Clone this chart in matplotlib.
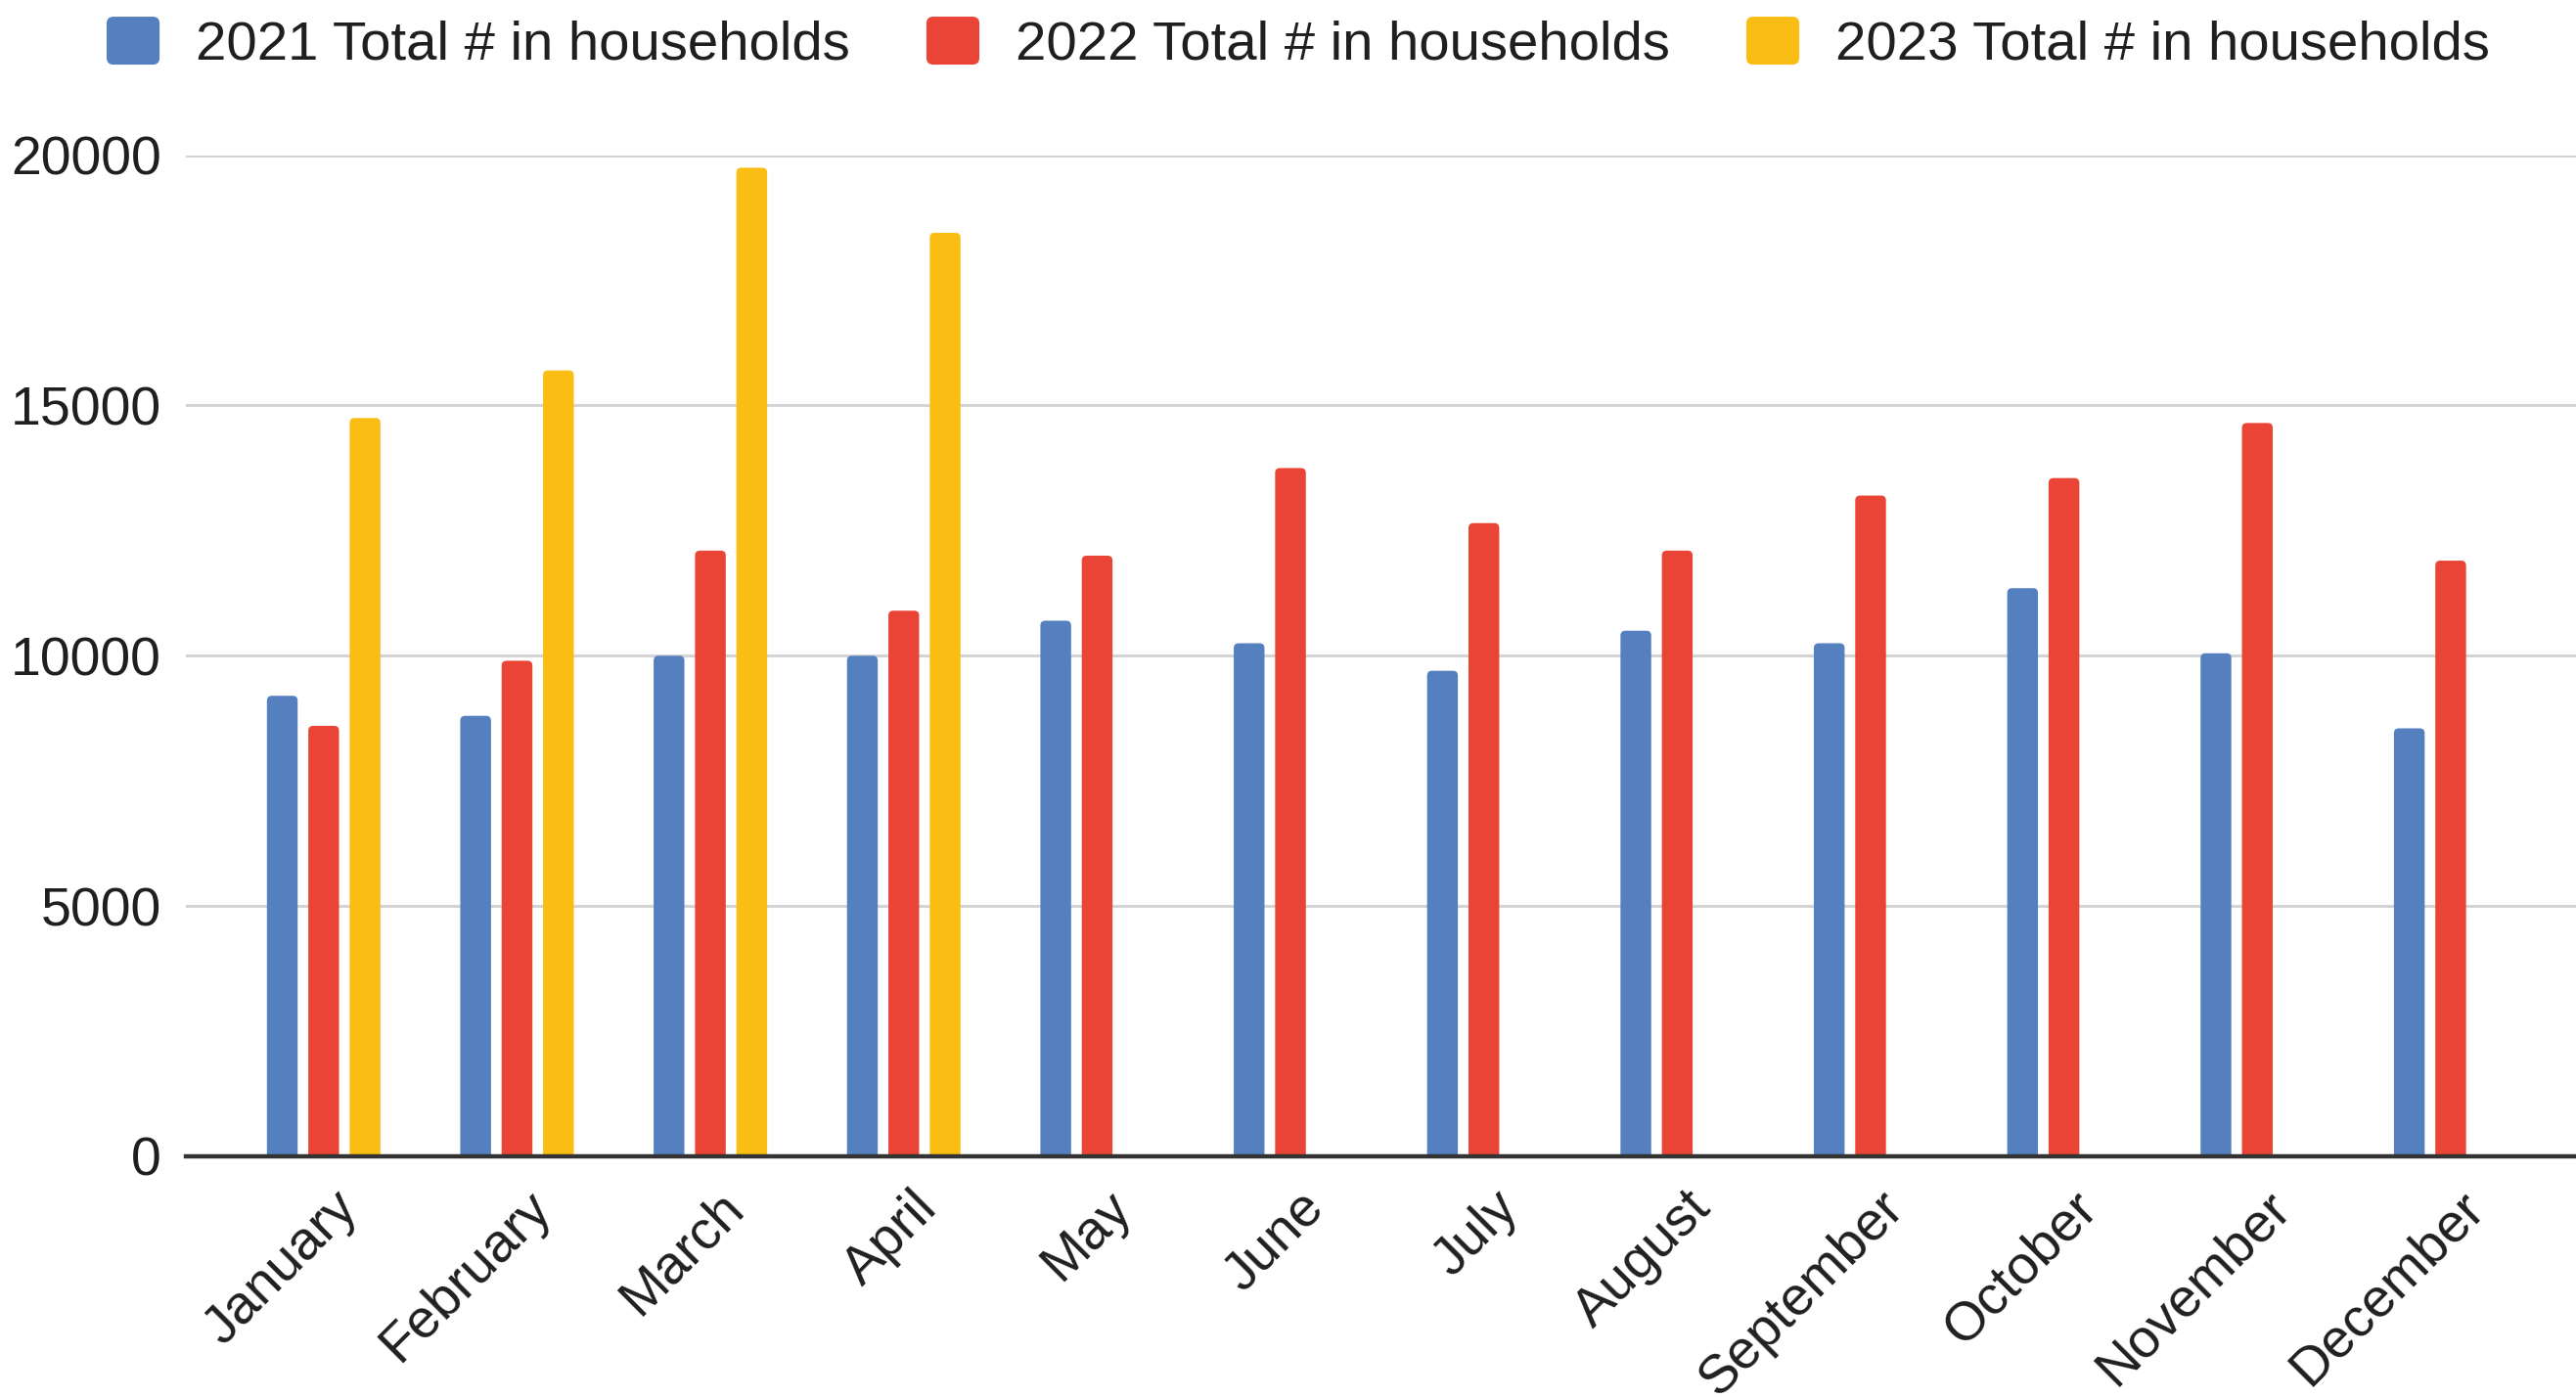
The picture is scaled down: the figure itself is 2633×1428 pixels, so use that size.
import matplotlib
matplotlib.use("Agg")
import matplotlib.pyplot as plt
import numpy as np
from matplotlib.patches import FancyBboxPatch, Patch
from matplotlib.legend_handler import HandlerPatch
from matplotlib.transforms import ScaledTranslation

plt.rcParams['font.family'] = ['Liberation Sans', 'DejaVu Sans']

months = ["January", "February", "March", "April", "May", "June", "July",
          "August", "September", "October", "November", "December"]
households_2021 = [9200, 8800, 10000, 10000, 10700, 10250, 9700, 10500,
                   10250, 11350, 10050, 8550]
households_2022 = [8600, 9900, 12100, 10900, 12000, 13750, 12650, 12100,
                   13200, 13550, 14650, 11900]
households_2023 = [14750, 15700, 19750, 18450]

series_labels = ["2021 Total # in households", "2022 Total # in households",
                 "2023 Total # in households"]
colors = ["#5580c0", "#e94435", "#f9bd14"]
yticks = [0, 5000, 10000, 15000, 20000]

DPI = 100
fig = plt.figure(figsize=(26.33, 14.28), dpi=DPI)
ax = fig.add_axes([0.0722, 0.1723, 1 - 0.0722, 0.7166])

x = np.arange(len(months))
bar_w = 0.159
step = 0.214

ax.set_xlim(-0.712, 11.648)
ax.set_ylim(0, 20000)

series = [households_2021, households_2022, households_2023]
for i, (vals, col) in enumerate(zip(series, colors)):
    xs = x[:len(vals)] + (i - 1) * step
    bars = ax.bar(xs, vals, width=bar_w, color=col, linewidth=0, zorder=2)
    # swap square bars for ones with slightly rounded tops
    for r in bars:
        r.set_visible(False)
        x0, h = r.get_x(), r.get_height()
        p = FancyBboxPatch((x0, -400), bar_w, h + 400,
                           boxstyle="round,pad=0,rounding_size=0.025",
                           mutation_aspect=3900, fc=col, ec="none",
                           zorder=2, clip_on=True)
        ax.add_patch(p)

# grid and baseline
ax.set_yticks(yticks)
ax.set_yticklabels([str(v) for v in yticks])
ax.yaxis.grid(True, color="#d4d4d4", linewidth=2.2, zorder=0)
ax.set_axisbelow(True)
ax.axhline(0, color="#333333", linewidth=3.2, zorder=3, clip_on=False)
for s in ax.spines.values():
    s.set_visible(False)

ax.tick_params(axis="y", length=0, pad=18, labelsize=40, labelcolor="#1f1f1f")
ax.tick_params(axis="x", length=0, pad=19, labelsize=40, labelcolor="#1f1f1f")

ax.set_xticks(x)
ax.set_xticklabels(months)
shift = ScaledTranslation(8 / DPI, 0, fig.dpi_scale_trans)
for lbl in ax.get_xticklabels():
    lbl.set_rotation(45)
    lbl.set_ha("right")
    lbl.set_va("top")
    lbl.set_rotation_mode("anchor")
    lbl.set_transform(lbl.get_transform() + shift)


class RoundSquare(HandlerPatch):
    def create_artists(self, legend, orig_handle, xdescent, ydescent,
                       width, height, fontsize, trans):
        p = FancyBboxPatch((-xdescent, -ydescent), width, height,
                           boxstyle="round,pad=0,rounding_size=5",
                           fc=orig_handle.get_facecolor(), ec="none",
                           transform=trans)
        return [p]


handles = [Patch(facecolor=c, label=l) for c, l in zip(colors, series_labels)]
fig.legend(handles=handles, loc="center left",
           bbox_to_anchor=(0.0414, 0.9685), bbox_transform=fig.transFigure,
           ncol=3, frameon=False, fontsize=40.6, borderpad=0, borderaxespad=0,
           handlelength=0.96, handleheight=0.96, handletextpad=0.66,
           columnspacing=1.38, labelcolor="#1f1f1f",
           handler_map={Patch: RoundSquare()})

fig.savefig("out.png", dpi=DPI, facecolor="white")
